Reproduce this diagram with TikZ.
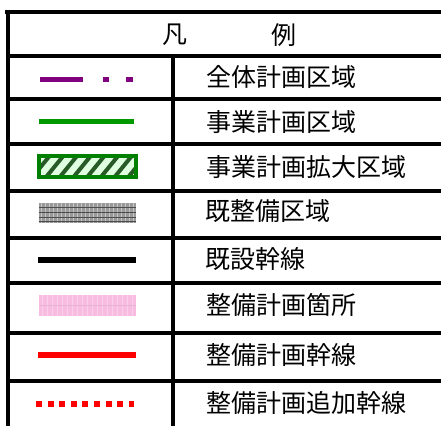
\documentclass[tikz,border=0pt]{standalone}
\usepackage{fontspec}
\setmainfont{Noto Sans CJK JP}
\usepackage{xcolor}
\usetikzlibrary{calc}

\definecolor{areapurple}{RGB}{128,0,128}
\definecolor{projgreen}{RGB}{0,153,0}
\definecolor{framegreen}{RGB}{0,128,0}
\definecolor{stripegreen}{RGB}{40,90,40}
\definecolor{planpink}{RGB}{248,188,224}
\definecolor{planred}{RGB}{255,0,0}

\tikzset{
  rule/.style={line width=4pt},
  legendtext/.style={anchor=west,inner sep=0pt,font=\fontsize{25}{25}\selectfont},
}

\begin{document}
\begin{tikzpicture}[x=1pt,y=-1pt]
                \useasboundingbox (0,0) rectangle (441,426);
                \clip (0,0) rectangle (441,426);
                \fill[white] (0,0) rectangle (441,426);

                % table
                \draw[rule] (5,11.5) -- (441,11.5);
                \foreach \y in {55.5,99,144,191,237.5,283,333,381}
                    \draw[rule] (7,\y) -- (441,\y);
                \draw[rule] (7.5,9.5) -- (7.5,426);
                \draw[rule] (173,55.5) -- (173,426);

                % header
                \node[legendtext,anchor=center] (hdrA) at (175,35) {凡};
                \node[legendtext,anchor=center] (hdrB) at (284,35) {例};

                % symbols
                \draw[areapurple,line width=5pt,dash pattern=on 43pt off 20pt on 6pt off 17pt on 7pt off 20pt] (40,79) -- (133,79);
                \draw[projgreen,line width=5pt] (39,121.5) -- (134,121.5);

                \fill[white] (39,156) rectangle (136,177);
                \begin{scope}
                    \clip (39,156) rectangle (136,177);
                    \fill[green!12] (39,156) rectangle (136,177);
                    \foreach \i in {0,...,8}
                        \draw[stripegreen,line width=4pt] (30+\i*13.7,180) -- ++(22,-27);
                \end{scope}
                \draw[framegreen,line width=4pt] (39,156) rectangle (136,177);

                \fill[gray!80] (39,203) rectangle (136,223);
                \foreach \x in {41,45,...,135}
                    \draw[gray!45,line width=0.9pt] (\x,203) -- (\x,223);
                \foreach \y in {207,212,217,221}
                    \draw[gray!60!black,line width=0.9pt] (39,\y) -- (136,\y);

                \draw[black,line width=6pt] (38,260) -- (136,260);

                \fill[planpink] (39,295) rectangle (136,316);
                \foreach \x in {42,47,...,135}
                    \draw[planpink!70!white,line width=0.8pt] (\x,295) -- (\x,316);
                \draw[planpink!85!gray,line width=0.8pt] (39,305) -- (136,305);

                \draw[planred,line width=6pt] (38,355) -- (136,355);
                \draw[planred,line width=6pt,dash pattern=on 6pt off 5.6pt] (36,404) -- (134,404);

                % labels
                \node[legendtext] (lblAll) at (206,77) {全体計画区域};
                \node[legendtext] (lblProj) at (206,122) {事業計画区域};
                \node[legendtext] (lblExt) at (206,167) {事業計画拡大区域};
                \node[legendtext] (lblDone) at (205,211) {既整備区域};
                \node[legendtext] (lblTrunk) at (205,259) {既設幹線};
                \node[legendtext] (lblSpot) at (206,305) {整備計画箇所};
                \node[legendtext] (lblPlan) at (206,355) {整備計画幹線};
                \node[legendtext] (lblAdd) at (206,403) {整備計画追加幹線};
            \end{tikzpicture}
\end{document}
